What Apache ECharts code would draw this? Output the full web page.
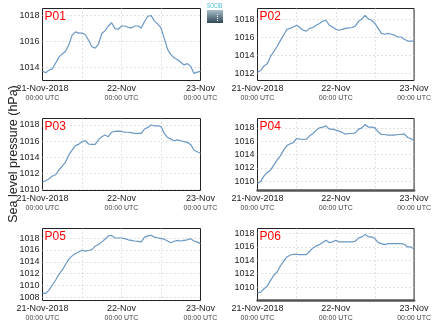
<!DOCTYPE html>
<html><head><meta charset="utf-8">
<script src="https://cdn.jsdelivr.net/npm/echarts@6/dist/echarts.min.js"></script>
<style>html,body{margin:0;padding:0;background:#fff}#c{width:434px;height:327px}</style>
</head><body><div id="c"></div>
<script>
// hours since 21-Nov-2018 00:00 UTC
const hours = Array.from({length: 49}, (_, i) => i);
const xTickLabels = {0: '21-Nov-2018', 24: '22-Nov', 48: '23-Nov'};
const xSubLabel = '00:00 UTC';
const panelNames = ['P01', 'P02', 'P03', 'P04', 'P05', 'P06'];
const yTitle = 'Sea level pressure (hPa)';

const P01 = [1013.72,1013.6,1013.8,1013.9,1014.35,1014.8,1015.05,1015.25,1015.75,1016.5,1016.75,1016.65,1016.65,1016.55,1016.1,1015.6,1015.5,1015.8,1016.6,1016.85,1017.2,1017.45,1017.0,1016.95,1017.2,1017.2,1017.1,1017.05,1017.2,1017.2,1017.05,1017.55,1017.95,1018.0,1017.6,1017.35,1017.05,1016.25,1015.4,1015.0,1014.75,1014.6,1014.4,1014.2,1014.3,1014.1,1013.55,1013.65,1013.7];
const P02 = [1012.15,1012.35,1012.85,1013.1,1013.9,1014.45,1015.0,1015.65,1016.25,1016.9,1017.0,1017.15,1017.35,1017.1,1016.8,1016.7,1017.0,1017.1,1017.35,1017.55,1017.8,1017.9,1017.35,1017.15,1016.9,1016.8,1016.9,1017.0,1017.05,1017.1,1017.25,1017.8,1018.05,1018.45,1018.05,1017.9,1017.55,1017.0,1016.45,1016.35,1016.45,1016.35,1016.25,1016.05,1016.05,1015.8,1015.6,1015.6,1015.6];
const P03 = [1010.95,1011.1,1011.35,1011.7,1011.85,1012.45,1012.9,1013.4,1014.3,1014.9,1015.45,1015.6,1015.95,1016.05,1015.65,1015.6,1015.6,1016.15,1016.55,1016.75,1016.55,1017.1,1017.2,1017.25,1017.2,1017.1,1017.1,1017.05,1016.95,1016.95,1016.95,1017.5,1017.7,1018.0,1017.9,1017.9,1017.8,1016.95,1016.45,1016.25,1016.05,1016.15,1016.05,1015.95,1015.85,1015.6,1014.9,1014.7,1014.5];
const P04 = [1009.65,1010.0,1010.8,1011.3,1011.65,1012.4,1013.15,1013.8,1014.65,1015.3,1015.6,1015.8,1016.4,1016.3,1016.25,1016.3,1016.8,1017.15,1017.65,1018.0,1018.1,1018.3,1017.8,1017.8,1017.65,1017.5,1017.3,1017.05,1017.15,1017.15,1017.25,1017.8,1018.0,1018.5,1018.1,1018.1,1018.0,1017.4,1017.0,1017.0,1016.9,1016.9,1016.9,1017.0,1017.0,1017.1,1016.55,1016.4,1016.05];
const P05 = [1008.7,1008.7,1009.3,1010.1,1010.95,1011.9,1012.6,1013.55,1014.45,1015.0,1015.4,1015.65,1015.95,1015.8,1015.9,1016.05,1016.65,1016.9,1017.35,1017.8,1018.35,1018.45,1018.0,1018.0,1018.0,1017.9,1017.7,1017.6,1017.5,1017.45,1017.35,1018.15,1018.35,1018.45,1018.15,1018.05,1017.9,1017.8,1017.5,1017.2,1017.45,1017.6,1017.5,1017.6,1017.7,1017.9,1017.5,1017.35,1017.05];
const P06 = [1009.15,1009.25,1009.75,1010.15,1011.0,1011.75,1012.25,1013.15,1013.85,1014.5,1014.75,1014.9,1014.9,1014.85,1014.85,1014.85,1015.35,1015.85,1016.15,1016.35,1016.65,1017.0,1016.65,1016.75,1017.0,1016.75,1016.75,1016.75,1016.75,1016.75,1016.85,1017.35,1017.5,1017.85,1017.5,1017.5,1017.25,1016.65,1016.5,1016.35,1016.5,1016.5,1016.5,1016.5,1016.5,1016.4,1016.0,1016.0,1015.7];
const seriesValues = [P01, P02, P03, P04, P05, P06];
const yMin = [1013.0, 1011.24, 1009.9, 1008.6, 1007.5, 1008.0];
const yMax = [1018.55, 1019.2, 1018.8, 1019.4, 1019.6, 1018.75];

const FONT = '"Liberation Sans", Arial, Helvetica, sans-serif';
const colX = [42.5, 257.5];
const colW = [158, 158];
const rowTop = [8.5, 118.5, 228.5];
const rowH = [[72, 72], [72, 72], [72, 72]];
const splitNums = [3, 4, 4, 5, 6, 5];
const thickBottom = [false, false, false, true, false, true];

const grids = [], xAxes = [], yAxes = [], series = [], titles = [];
for (let i = 0; i < 6; i++) {
  const r = Math.floor(i / 2), c = i % 2;
  grids.push({left: colX[c], top: rowTop[r], width: colW[c], height: rowH[r][c],
    show: true, borderColor: '#222', borderWidth: 1, backgroundColor: 'transparent'});
  xAxes.push({gridIndex: i, type: 'value', min: 0, max: 48, interval: 12,
    axisLine: {show: thickBottom[i], onZero: false, lineStyle: {color: '#555', width: 2.5}},
    axisTick: {show: false},
    splitLine: {show: true, showMinLine: false, showMaxLine: false,
      lineStyle: {color: '#c4c4c4', type: [1, 3], width: 1}},
    axisLabel: {margin: 3, showMinLabel: true, showMaxLabel: true,
      formatter: v => xTickLabels[v] !== undefined ? '{a|' + xTickLabels[v] + '}\n{b|' + xSubLabel + '}' : '',
      rich: {a: {fontSize: 9, lineHeight: 10, color: '#222', fontFamily: FONT},
             b: {fontSize: 7, lineHeight: 9, color: '#444', fontFamily: FONT}}}
  });
  yAxes.push({gridIndex: i, type: 'value', min: yMin[i], max: yMax[i], splitNumber: splitNums[i],
    axisLine: {show: false}, axisTick: {show: false},
    splitLine: {show: true, showMinLine: false, showMaxLine: false,
      lineStyle: {color: '#c4c4c4', type: [1, 3], width: 1}},
    axisLabel: {margin: 3, showMinLabel: false, showMaxLabel: false, fontSize: 9, color: '#222', fontFamily: FONT,
      formatter: v => String(Math.round(v))}
  });
  series.push({type: 'line', xAxisIndex: i, yAxisIndex: i, showSymbol: false, smooth: false,
    lineStyle: {color: '#6a98c4', width: 1.2}, animation: false,
    data: hours.map((h, k) => [h, seriesValues[i][k]])});
  titles.push({text: panelNames[i], left: colX[c] + 1, top: rowTop[r] + 2, padding: [0, 1],
    backgroundColor: '#fff',
    textStyle: {fontSize: 12, lineHeight: 12, color: '#ff0000', fontWeight: 'normal', fontFamily: FONT}});
}

const chart = echarts.init(document.getElementById('c'), null, {renderer: 'canvas'});
chart.setOption({
  animation: false,
  title: titles,
  grid: grids, xAxis: xAxes, yAxis: yAxes, series: series,
  graphic: [
    {type: 'text', x: 13.5, y: 154, rotation: Math.PI / 2,
      style: {text: yTitle, fontSize: 12.5, fontFamily: FONT, fill: '#222', textAlign: 'center', textVerticalAlign: 'middle'}},
    {type: 'text', x: 207, y: 3, scaleX: 0.7,
      style: {text: 'SOCIB', fontSize: 7, fontFamily: FONT, fill: '#3db6cc', textAlign: 'left', textVerticalAlign: 'top'}},
    {type: 'rect', shape: {x: 207, y: 10, width: 16, height: 13},
      style: {fill: new echarts.graphic.LinearGradient(0, 0, 0, 1, [{offset: 0, color: '#a9bfca'}, {offset: 1, color: '#2f4858'}])}},
    {type: 'line', shape: {x1: 217.5, y1: 14, x2: 217.5, y2: 22},
      style: {stroke: '#fff', lineWidth: 1, lineDash: [1, 1]}}
  ]
});
</script></body></html>
